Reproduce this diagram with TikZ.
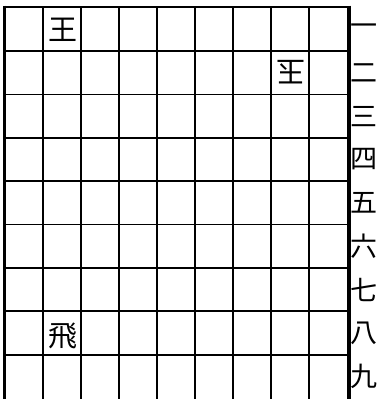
\documentclass[tikz,border=0pt]{standalone}
\usepackage{fontspec}
\newfontfamily\jpfont{Noto Sans CJK JP}
\tikzset{
  gridline/.style={line width=1.8pt, black},
  boardedge/.style={line width=3.6pt, black},
  piece/.style={inner sep=0pt, font=\jpfont\fontsize{29}{29}\selectfont},
  ranklabel/.style={inner sep=0pt, font=\jpfont\fontsize{27}{27}\selectfont},
}
\begin{document}
\begin{tikzpicture}[x=1pt,y=-1pt]
\useasboundingbox (0,0) rectangle (378,399);
\fill[white] (0,0) rectangle (378,399);
% inner grid
\foreach \i in {1,...,8} {
  \draw[gridline] ({5+38*\i},7) -- ({5+38*\i},400);
}
\foreach \j in {1,...,8} {
  \draw[gridline] (5,{7.7+43.37*\j}) -- (348,{7.7+43.37*\j});
}
\draw[line width=1.2pt, black!35] (5,399.3) -- (348,399.3);
% borders
\draw[line width=2.6pt] (3,7) -- (351,7);
\draw[boardedge] (4.5,5.7) -- (4.5,400);
\draw[boardedge] (349,5.7) -- (349,400);
% pieces
\node[piece] (ou) at (62.5,30) {王};
\node[piece, rotate=180] (gyoku) at (290.5,72.5) {玉};
\node[piece] (hisha) at (62.5,335.5) {飛};
% rank labels
\foreach \k/\t in {1/一,2/二,3/三,4/四,5/五,6/六,7/七,8/八,9/九} {
  \node[ranklabel] (r\k) at (364,{7.7+43.37*(\k-0.5)}) {\t};
}
\end{tikzpicture}
\end{document}
